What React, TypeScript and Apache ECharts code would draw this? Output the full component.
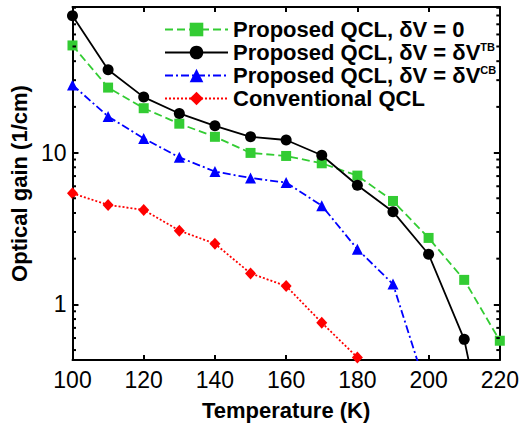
import React, { useEffect, useRef } from "react";
import * as echarts from "echarts";

const temperatures = [100, 110, 120, 130, 140, 150, 160, 170, 180, 190, 200, 210, 220];
const gainDv0 = [50.8, 26.8, 19.6, 15.5, 12.7, 9.95, 9.5, 8.5, 7.05, 4.8, 2.74, 1.45, 0.576];
const gainDvTB = [79.6, 35.1, 23.2, 18.1, 15.0, 12.7, 12.1, 9.6, 6.09, 4.08, 2.14, 0.588, 0.045];
const gainDvCB = [27.9, 17.3, 12.4, 9.3, 7.5, 6.8, 6.34, 4.47, 2.31, 1.36, 0.25];
const gainConv = [5.39, 4.52, 4.19, 3.06, 2.51, 1.6, 1.32, 0.757, 0.447];
const xTicks = [100, 120, 140, 160, 180, 200, 220];
const yLabels = [1, 10];
const yMinorTicks = [0.5, 0.6, 0.7, 0.8, 0.9, 2, 3, 4, 5, 6, 7, 8, 9, 20, 30, 40, 50, 60, 70, 80, 90];

const names = [
  "Proposed QCL, δV = 0",
  "Proposed QCL, δV = δV^TB",
  "Proposed QCL, δV = δV^CB",
  "Conventional QCL",
];

const FONT = "'Liberation Sans', Arial, sans-serif";
const X_MIN = 100;
const X_MAX = 220;
const Y_MIN = 0.43;
const Y_MAX = 91;

function pair(vals: number[]) {
  return vals.map((v, i) => [temperatures[i], v]);
}

export default function App() {
  const ref = useRef<HTMLDivElement>(null);
  useEffect(() => {
    document.body.style.margin = "0";
    if (!ref.current) return;
    const chart = echarts.init(ref.current, undefined, { renderer: "svg" });
    const isLabel = (v: number) => yLabels.some((l) => Math.abs(Math.log10(v) - Math.log10(l)) < 1e-6);
    const axisLineStyle = { color: "#000", width: 2 };
    chart.setOption({
      animation: false,
      backgroundColor: "#fff",
      grid: { left: 67, right: 20, top: 7, bottom: 71, containLabel: false },
      legend: {
        orient: "vertical",
        left: 159,
        top: 13,
        itemWidth: 63,
        itemHeight: 17,
        itemGap: 0,
        data: names,
        textStyle: {
          fontFamily: FONT,
          fontSize: 22,
          fontWeight: "bold",
          color: "#000",
          lineHeight: 23,
          rich: {
            n: { fontFamily: FONT, fontSize: 22, fontWeight: "bold", color: "#000", lineHeight: 23 },
            s: { fontFamily: FONT, fontSize: 11, fontWeight: "bold", color: "#000", lineHeight: 11, verticalAlign: "top" },
          },
        },
        formatter: (name: string) => {
          const idx = name.indexOf("^");
          if (idx < 0) return "{n|" + name + "}";
          return "{n|" + name.slice(0, idx) + "}{s|" + name.slice(idx + 1) + "}";
        },
      },
      xAxis: [
        {
          type: "value",
          min: X_MIN,
          max: X_MAX,
          interval: 20,
          position: "bottom",
          name: "Temperature (K)",
          nameLocation: "middle",
          nameGap: 39,
          nameTextStyle: { fontFamily: FONT, fontSize: 22, fontWeight: "bold", color: "#000" },
          axisLine: { show: true, lineStyle: axisLineStyle },
          axisTick: { show: true, inside: true, length: 5, lineStyle: { color: "#000", width: 2 } },
          axisLabel: {
            fontFamily: FONT,
            fontSize: 23,
            color: "#000",
            margin: 8,
            formatter: (v: number) => (xTicks.includes(v) ? String(v) : ""),
          },
          splitLine: { show: false },
        },
        {
          type: "value",
          min: X_MIN,
          max: X_MAX,
          interval: 20,
          position: "top",
          axisLine: { show: true, lineStyle: axisLineStyle },
          axisTick: { show: true, inside: true, length: 5, lineStyle: { color: "#000", width: 2 } },
          axisLabel: { show: false },
          splitLine: { show: false },
        },
      ],
      yAxis: [
        {
          type: "log",
          logBase: 10,
          min: Y_MIN,
          max: Y_MAX,
          position: "left",
          name: "Optical gain (1/cm)",
          nameLocation: "middle",
          nameGap: 38,
          nameTextStyle: { fontFamily: FONT, fontSize: 22, fontWeight: "bold", color: "#000" },
          axisLine: { show: true, lineStyle: axisLineStyle },
          axisTick: { show: true, inside: true, length: 6, lineStyle: { color: "#000", width: 2 } },
          axisLabel: {
            fontFamily: FONT,
            fontSize: 23,
            color: "#000",
            margin: 6,
            showMinLabel: false,
            showMaxLabel: false,
            formatter: (v: number) => (isLabel(v) ? String(Math.round(v)) : ""),
          },
          splitLine: { show: false },
        },
        {
          type: "log",
          logBase: 10,
          min: Y_MIN,
          max: Y_MAX,
          position: "right",
          axisLine: { show: true, lineStyle: axisLineStyle },
          axisTick: { show: true, inside: true, length: 6, lineStyle: { color: "#000", width: 2 } },
          axisLabel: { show: false },
          splitLine: { show: false },
        },
      ],
      series: [
        {
          name: names[0],
          type: "line",
          data: pair(gainDv0),
          symbol: "rect",
          symbolSize: 10,
          itemStyle: { color: "#33cc33" },
          lineStyle: { color: "#33cc33", width: 1.8, type: [8, 4] },
          z: 3,
        },
        {
          name: names[1],
          type: "line",
          data: pair(gainDvTB),
          symbol: "circle",
          symbolSize: 11,
          itemStyle: { color: "#000" },
          lineStyle: { color: "#000", width: 1.8, type: "solid" },
          z: 4,
        },
        {
          name: names[2],
          type: "line",
          data: pair(gainDvCB),
          symbol: "triangle",
          symbolSize: 11,
          itemStyle: { color: "#0000ff" },
          lineStyle: { color: "#0000ff", width: 1.8, type: [8, 3, 2, 3] },
          z: 3,
        },
        {
          name: names[3],
          type: "line",
          data: pair(gainConv),
          symbol: "diamond",
          symbolSize: [11, 12],
          itemStyle: { color: "#ff0000" },
          lineStyle: { color: "#ff0000", width: 1.8, type: [2, 2] },
          z: 3,
        },
        {
          type: "custom",
          silent: true,
          data: yMinorTicks.map((v) => [X_MIN, v]),
          encode: { x: 0, y: 1 },
          z: 10,
          renderItem: (_params: any, api: any) => {
            const v = api.value(1);
            const l = api.coord([X_MIN, v]);
            const r = api.coord([X_MAX, v]);
            const style = { stroke: "#000", lineWidth: 2 };
            return {
              type: "group",
              children: [
                { type: "line", shape: { x1: l[0], y1: l[1], x2: l[0] + 3.5, y2: l[1] }, style },
                { type: "line", shape: { x1: r[0], y1: r[1], x2: r[0] - 3.5, y2: r[1] }, style },
              ],
            };
          },
        },
      ],
    });
    return () => chart.dispose();
  }, []);
  return <div ref={ref} style={{ width: 522, height: 431 }} />;
}
